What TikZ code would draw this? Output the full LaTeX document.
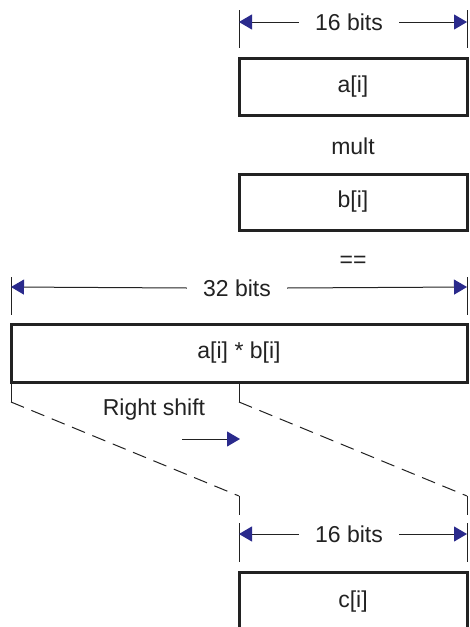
\documentclass[tikz,border=0pt]{standalone}
\usepackage{fontspec}
\setmainfont{Liberation Sans}
\usetikzlibrary{arrows.meta}
\definecolor{navy}{HTML}{2A2A8C}
\definecolor{ink}{HTML}{222222}
\tikzset{
  txt/.style={text=ink, font=\fontsize{23}{27}\selectfont, inner sep=0pt},
  dimlbl/.style={txt, inner xsep=16pt},
  regbox/.style={draw=ink, line width=3pt, rectangle, txt},
  thin/.style={draw=ink, line width=1pt},
  dimarrow/.style={thin, -{Triangle[length=13pt,width=15pt,color=navy,fill=navy]}},
  dashedline/.style={thin, dash pattern=on 14pt off 8pt},
}
\begin{document}
\begin{tikzpicture}[x=1pt,y=-1pt]
\clip (0,0) rectangle (469,627);
\fill[white] (0,0) rectangle (469,627);

% top 16 bits
\coordinate (t1a) at (239,10); \coordinate (t1b) at (239,48);
\coordinate (t2a) at (467,10); \coordinate (t2b) at (467,48);
\draw[thin] (t1a) -- (t1b);
\draw[thin] (t2a) -- (t2b);
\coordinate (d1l) at (239,22); \coordinate (d1r) at (467,22);
\node[dimlbl] (lbl16a) at (349,22) {16 bits};
\draw[dimarrow] (lbl16a.west) -- (d1l);
\draw[dimarrow] (lbl16a.east) -- (d1r);

\node[regbox, minimum width=228pt, minimum height=57pt] (a) at (353,86.5) {a[i]};
\node[txt] (mult) at (353,146) {mult};
\node[regbox, minimum width=228pt, minimum height=56pt] (b) at (353,202) {b[i]};
\node[txt] (eq) at (353,262) {==};

% 32 bits
\coordinate (t3a) at (11,277); \coordinate (t3b) at (11,315);
\coordinate (t4a) at (467,277); \coordinate (t4b) at (467,315);
\draw[thin] (t3a) -- (t3b);
\draw[thin] (t4a) -- (t4b);
\coordinate (d2l) at (11,287); \coordinate (d2r) at (467,287);
\node[dimlbl] (lbl32) at (237,288) {32 bits};
\draw[dimarrow] (lbl32.west) -- (d2l);
\draw[dimarrow] (lbl32.east) -- (d2r);

\node[regbox, minimum width=456pt, minimum height=58pt] (ab) at (239,353) {a[i] * b[i]};

% shift lines
\coordinate (s1) at (11,382); \coordinate (s1b) at (11,402);
\coordinate (s1c) at (239,496); \coordinate (s1d) at (239,515);
\coordinate (s2) at (239,382); \coordinate (s2b) at (239,402);
\coordinate (s2c) at (467,496); \coordinate (s2d) at (467,515);
\draw[thin] (s1) -- (s1b);
\draw[dashedline] (s1b) -- (s1c);
\draw[thin] (s1c) -- (s1d);
\draw[thin] (s2) -- (s2b);
\draw[dashedline] (s2b) -- (s2c);
\draw[thin] (s2c) -- (s2d);

\node[txt] (rs) at (154,410) {Right shift};
\coordinate (ra) at (182,439); \coordinate (rb) at (240,439);
\draw[dimarrow] (ra) -- (rb);

% bottom 16 bits
\coordinate (t5a) at (239,523); \coordinate (t5b) at (239,562);
\coordinate (t6a) at (467,523); \coordinate (t6b) at (467,562);
\draw[thin] (t5a) -- (t5b);
\draw[thin] (t6a) -- (t6b);
\coordinate (d3l) at (239,534); \coordinate (d3r) at (467,534);
\node[dimlbl] (lbl16b) at (349,534) {16 bits};
\draw[dimarrow] (lbl16b.west) -- (d3l);
\draw[dimarrow] (lbl16b.east) -- (d3r);

\node[regbox, minimum width=228pt, minimum height=70pt] (c) at (353,607) {};
\node[txt] (clbl) at (353,602) {c[i]};
\end{tikzpicture}
\end{document}
